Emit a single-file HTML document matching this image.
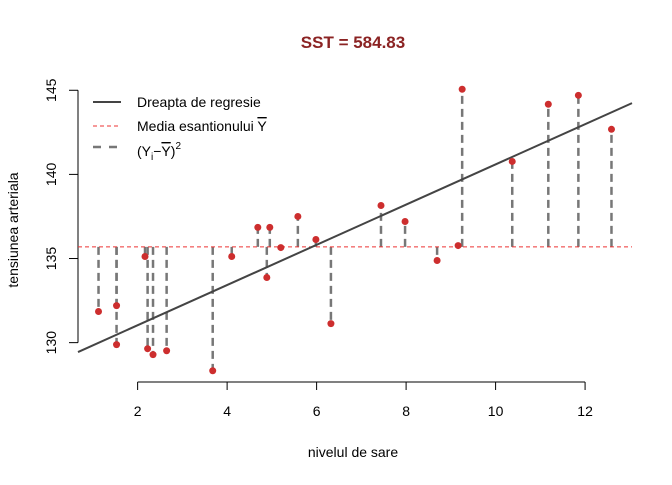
<!DOCTYPE html>
<html><head><meta charset="utf-8"><style>
body{margin:0;background:#fff}
svg text{font-family:"Liberation Sans",Arial,sans-serif}
</style></head><body>
<svg id="chart" width="672" height="480" xmlns="http://www.w3.org/2000/svg">
<text x="353" y="48" text-anchor="middle" font-size="17" font-weight="bold" fill="#8B2323">SST = 584.83</text>
<text x="353" y="457" text-anchor="middle" font-size="14">nivelul de sare</text>
<text transform="translate(18,230) rotate(-90)" text-anchor="middle" font-size="14">tensiunea arteriala</text>
<g id="plot"></g>
<g>
 <line x1="93" y1="102" x2="121" y2="102" stroke="#444" stroke-width="2"/>
 <text x="137" y="107" font-size="14">Dreapta de regresie</text>
 <line x1="93" y1="126" x2="121" y2="126" stroke="#e33" stroke-width="1" stroke-dasharray="4,3"/>
 <text x="137" y="131" font-size="14">Media esantionului <tspan text-decoration="overline">Y</tspan></text>
 <line x1="93" y1="147" x2="121" y2="147" stroke="#777" stroke-width="2.5" stroke-dasharray="8,8"/>
 <text x="137" y="156" font-size="14">(Y<tspan font-size="10" dy="4">i</tspan><tspan dy="-4">−</tspan><tspan text-decoration="overline">Y</tspan>)<tspan font-size="10" dy="-7">2</tspan></text>
</g>
</svg>
<script>
const xs=[1.126,1.529,1.529,2.165,2.223,2.344,2.648,3.678,4.103,4.686,4.887,4.954,5.200,5.581,5.984,6.320,7.439,7.977,8.693,9.163,9.253,10.372,11.178,11.850,12.590];
const ys=[131.85,132.20,129.88,135.12,129.64,129.29,129.52,128.33,135.12,136.85,133.87,136.85,135.65,137.50,136.13,131.13,138.15,137.20,134.88,135.77,145.06,140.77,144.17,144.70,142.68];
const xTicks=[2,4,6,8,10,12];
const yTicks=[130,135,140,145];
const NS="http://www.w3.org/2000/svg";
const g=document.getElementById('plot');
const xmin=Math.min(...xs),xmax=Math.max(...xs),ymin=Math.min(...ys),ymax=Math.max(...ys);
const ux0=xmin-0.04*(xmax-xmin),ux1=xmax+0.04*(xmax-xmin);
const uy0=ymin-0.04*(ymax-ymin),uy1=ymax+0.04*(ymax-ymin);
const L=78,R=632,T=78,B=382;
const sx=v=>L+(v-ux0)/(ux1-ux0)*(R-L);
const sy=v=>B-(v-uy0)/(uy1-uy0)*(B-T);
function el(t,a){const e=document.createElementNS(NS,t);for(const k in a)e.setAttribute(k,a[k]);g.appendChild(e);return e;}
const n=xs.length,mx=xs.reduce((a,b)=>a+b)/n,my=ys.reduce((a,b)=>a+b)/n;
let sxy=0,sxx=0;for(let i=0;i<n;i++){sxy+=(xs[i]-mx)*(ys[i]-my);sxx+=(xs[i]-mx)**2;}
const b1=sxy/sxx,b0=my-b1*mx;
let a=el('line',{x1:L,y1:sy(yTicks[0]),x2:L,y2:sy(yTicks[yTicks.length-1]),stroke:'#000'});

a=el('line',{x1:sx(xTicks[0]),y1:B,x2:sx(xTicks[xTicks.length-1]),y2:B,stroke:'#000'});

xTicks.forEach(t=>{const tk=el('line',{x1:sx(t),y1:B,x2:sx(t),y2:B+8,stroke:'#000'});

const tx=el('text',{x:sx(t),y:B+34,'text-anchor':'middle','font-size':14});tx.textContent=t;
});
yTicks.forEach(t=>{const tk=el('line',{x1:L-9,y1:sy(t),x2:L,y2:sy(t),stroke:'#000'});

const tx=el('text',{transform:`translate(${L-22},${sy(t)}) rotate(-90)`,'text-anchor':'middle','font-size':14});tx.textContent=t;
});
for(let i=0;i<n;i++){const s=el('line',{x1:sx(xs[i]),y1:sy(my),x2:sx(xs[i]),y2:sy(ys[i]),stroke:'#777','stroke-width':2.5,'stroke-dasharray':'8,5'});
}
a=el('line',{x1:L,y1:sy(my),x2:R,y2:sy(my),stroke:'#e33','stroke-width':1,'stroke-dasharray':'4,3'});

a=el('line',{x1:L,y1:sy(b0+b1*ux0),x2:R,y2:sy(b0+b1*ux1),stroke:'#444','stroke-width':2});

for(let i=0;i<n;i++){const c=el('circle',{cx:sx(xs[i]),cy:sy(ys[i]),r:3.5,fill:'#CD2E2E'});
}
</script>
</body></html>
